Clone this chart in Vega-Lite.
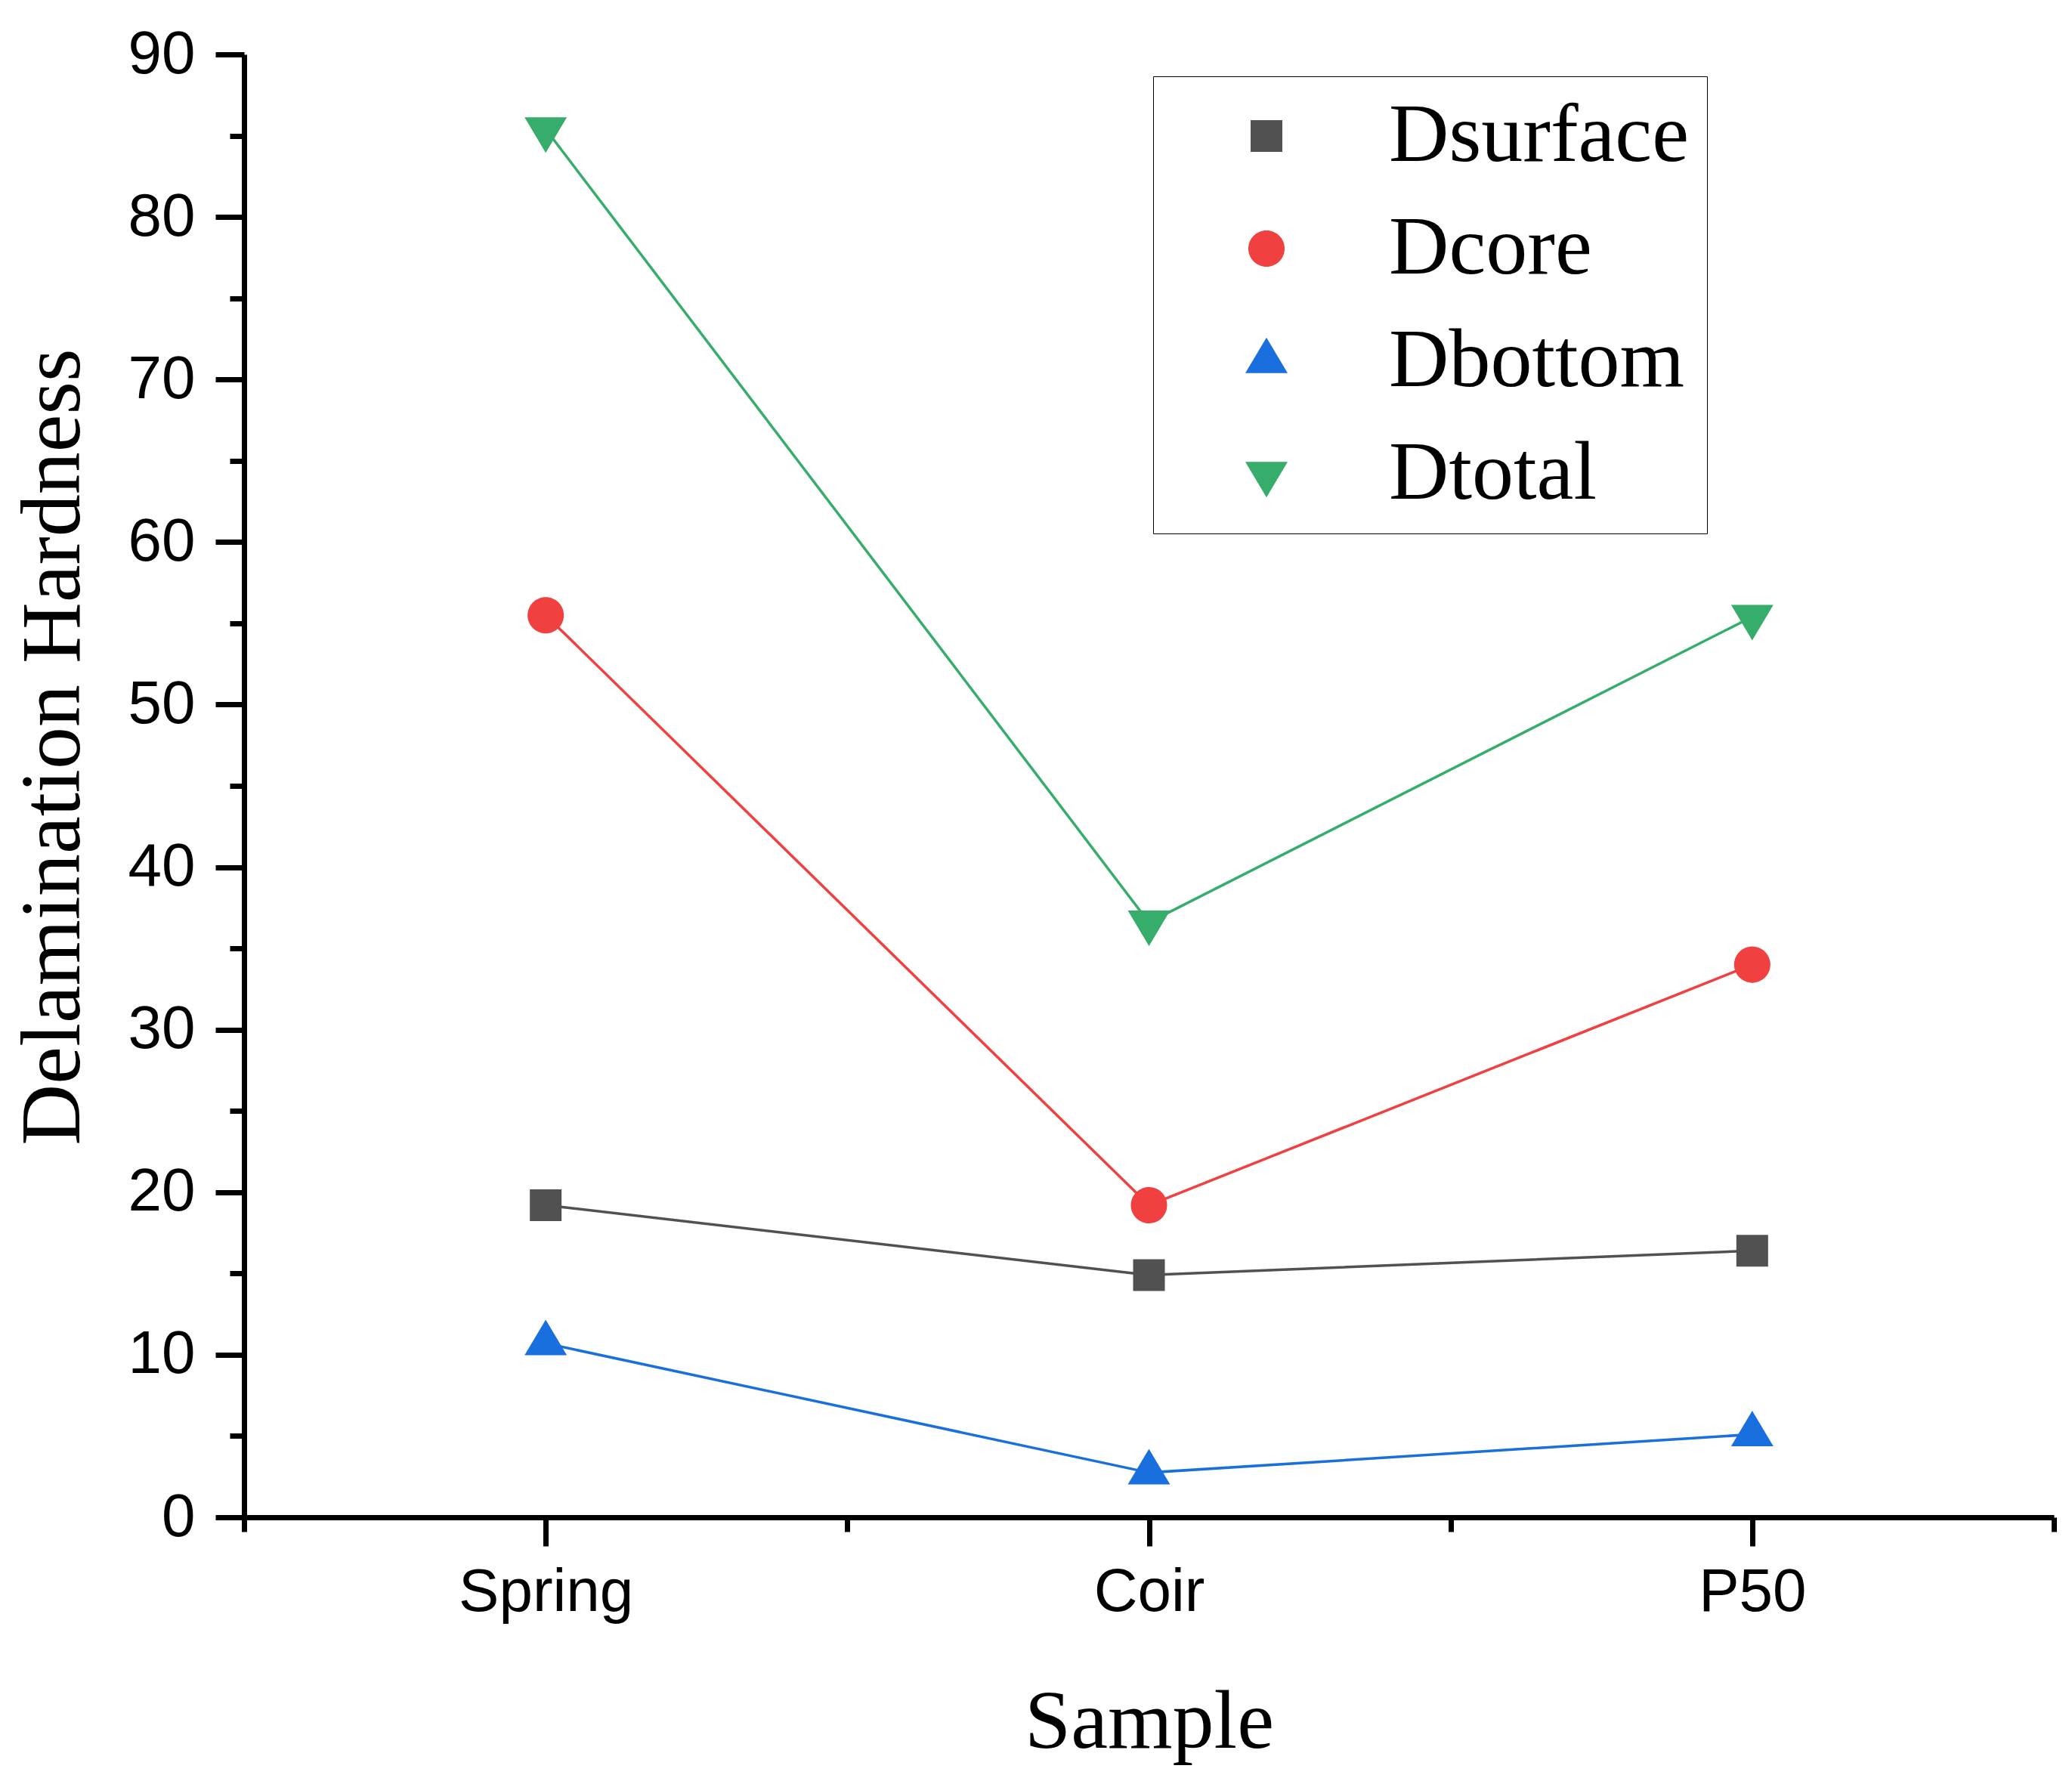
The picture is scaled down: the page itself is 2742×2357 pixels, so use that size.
{
  "$schema": "https://vega.github.io/schema/vega-lite/v6.json",
  "width": 2395,
  "height": 1936,
  "autosize": {"type": "none"},
  "padding": {"left": 323, "top": 72, "right": 24, "bottom": 349},
  "background": "white",
  "config": {"view": {"stroke": null}},
  "data": {
    "values": [
      {"Sample": "Spring", "Series": "Dsurface", "Value": 19.2},
      {"Sample": "Coir", "Series": "Dsurface", "Value": 14.9},
      {"Sample": "P50", "Series": "Dsurface", "Value": 16.4},
      {"Sample": "Spring", "Series": "Dcore", "Value": 55.5},
      {"Sample": "Coir", "Series": "Dcore", "Value": 19.2},
      {"Sample": "P50", "Series": "Dcore", "Value": 34.0},
      {"Sample": "Spring", "Series": "Dbottom", "Value": 10.7},
      {"Sample": "Coir", "Series": "Dbottom", "Value": 2.75},
      {"Sample": "P50", "Series": "Dbottom", "Value": 5.1},
      {"Sample": "Spring", "Series": "Dtotal", "Value": 85.4},
      {"Sample": "Coir", "Series": "Dtotal", "Value": 36.6},
      {"Sample": "P50", "Series": "Dtotal", "Value": 55.4}
    ]
  },
  "encoding": {
    "x": {
      "field": "Sample",
      "type": "nominal",
      "scale": {"type": "point", "domain": ["s0", "Spring", "s1", "Coir", "s2", "P50", "s3"], "padding": 0},
      "axis": {
        "title": "Sample",
        "titleFont": "Liberation Serif",
        "titleFontSize": 110,
        "titleFontWeight": "normal",
        "titleColor": "black",
        "titlePadding": 78,
        "labelFont": "Liberation Sans",
        "labelFontSize": 80,
        "labelColor": "black",
        "labelPadding": 22,
        "labelAngle": 0,
        "labelLimit": 0,
        "labelOverlap": false,
        "labelExpr": "indexof(['Spring','Coir','P50'], datum.value) >= 0 ? datum.label : ''",
        "domainColor": "black",
        "domainWidth": 7,
        "tickColor": "black",
        "tickWidth": 7,
        "tickSize": {"condition": {"test": "indexof(['Spring','Coir','P50'], datum.value) >= 0", "value": 38}, "value": 19},
        "grid": false
      }
    },
    "y": {
      "field": "Value",
      "type": "quantitative",
      "scale": {"domain": [0, 90], "nice": false, "zero": true},
      "axis": {
        "title": "Delamination Hardness",
        "titleFont": "Liberation Serif",
        "titleFontSize": 112,
        "titleFontWeight": "normal",
        "titleColor": "black",
        "titlePadding": 41,
        "titleY": 916,
        "values": [0, 5, 10, 15, 20, 25, 30, 35, 40, 45, 50, 55, 60, 65, 70, 75, 80, 85, 90],
        "labelExpr": "datum.value % 10 === 0 ? datum.label : ''",
        "labelFont": "Liberation Sans",
        "labelFontSize": 80,
        "labelColor": "black",
        "labelPadding": 27,
        "labelOverlap": false,
        "labelFlush": false,
        "domainColor": "black",
        "domainWidth": 7,
        "tickColor": "black",
        "tickWidth": 7,
        "tickSize": {"condition": {"test": "datum.value % 10 === 0", "value": 38}, "value": 19},
        "grid": false
      }
    },
    "color": {
      "field": "Series",
      "type": "nominal",
      "scale": {"domain": ["Dsurface", "Dcore", "Dbottom", "Dtotal"], "range": ["#515151", "#F14040", "#1A6FDF", "#37AD6B"]},
      "legend": {
        "title": null,
        "orient": "none",
        "legendX": 1203,
        "legendY": 29,
        "labelFont": "Liberation Serif",
        "labelFontSize": 110,
        "labelColor": "black",
        "labelLimit": 0,
        "symbolSize": 1764,
        "symbolStrokeWidth": 0,
        "symbolOffset": 71,
        "labelOffset": 107,
        "rowPadding": 39,
        "padding": 24,
        "strokeColor": "black",
        "fillColor": "white"
      }
    }
  },
  "layer": [
    {
      "mark": {"type": "line", "strokeWidth": 3.5}
    },
    {
      "mark": {"type": "point", "filled": true, "opacity": 1, "size": 1764, "strokeWidth": 0},
      "encoding": {
        "shape": {
          "field": "Series",
          "type": "nominal",
          "scale": {
            "domain": ["Dsurface", "Dcore", "Dbottom", "Dtotal"],
            "range": [
              "M-1,-1H1V1H-1Z",
              "M1.143,0A1.143,1.143 0 1,1 -1.143,0A1.143,1.143 0 1,1 1.143,0Z",
              "M0,-1.492L1.333,0.746L-1.333,0.746Z",
              "M-1.333,-0.746L1.333,-0.746L0,1.492Z"
            ]
          },
          "legend": null
        }
      }
    }
  ]
}
